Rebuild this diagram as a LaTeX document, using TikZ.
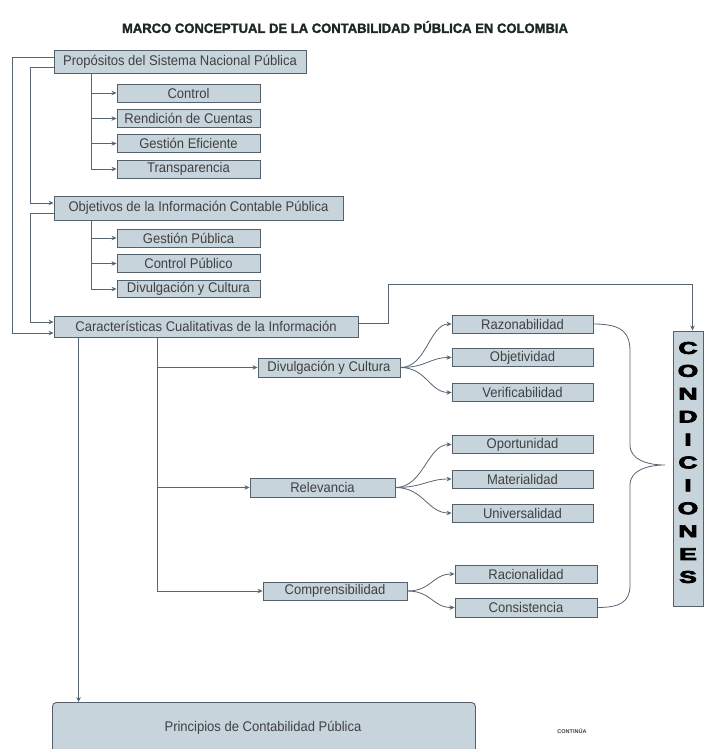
\documentclass[tikz,border=0pt]{standalone}
\usepackage{fontspec}
\usepackage{graphicx}
\setmainfont{Liberation Sans}
\newfontfamily\boxfont[FakeStretch=0.93]{Liberation Sans}
\newfontfamily\heavyfont[FakeBold=4]{Liberation Sans Bold}
\newfontfamily\titfont[FakeBold=1.6]{Liberation Sans Bold}
\usetikzlibrary{arrows.meta,shadows}
\definecolor{boxc}{RGB}{200,212,220}
\definecolor{bordc}{RGB}{84,96,108}
\definecolor{linec}{RGB}{88,100,114}
\definecolor{textc}{RGB}{62,64,66}
\definecolor{titc}{RGB}{28,40,32}
\tikzset{
  bx/.style 2 args={draw=bordc, fill=boxc, line width=0.9pt, inner sep=0pt,
    minimum width=#1, minimum height=#2, text=textc,
    font=\boxfont\fontsize{14}{14}\selectfont,
    drop shadow={shadow xshift=0.8pt,shadow yshift=-0.8pt,fill=black!30}},
  ln/.style={draw=linec, line width=0.8pt},
  arr/.style={ln, -{Stealth[length=5pt,width=4.5pt]}},
}
\begin{document}
\begin{tikzpicture}[x=1pt,y=-1pt]
\useasboundingbox (0,0) rectangle (704,749);
\fill[white] (0,0) rectangle (704,749);

% title
\node[text=titc, inner sep=0pt] (tit) at (345,27)
  {\resizebox{446pt}{\height}{\titfont\fontsize{13.5}{14}\selectfont MARCO CONCEPTUAL DE LA CONTABILIDAD PÚBLICA EN COLOMBIA}};

% level 1
\node[bx={252pt}{23pt}] (p1) at (180,61.5) {Propósitos del Sistema Nacional Pública};
\node[bx={143pt}{18pt}] (c1) at (188.5,93) {Control};
\node[bx={143pt}{18pt}] (c2) at (188.5,118.5) {Rendición de Cuentas};
\node[bx={143pt}{18pt}] (c3) at (188.5,143.5) {Gestión Eficiente};
\node[bx={143pt}{18pt}] (c4) at (188.5,169) {Transparencia};

\node[bx={289pt}{24pt}] (p2) at (198.5,208) {Objetivos de la Información Contable Pública};
\node[bx={143pt}{18pt}] (g1) at (188.5,238) {Gestión Pública};
\node[bx={143pt}{18pt}] (g2) at (188.5,263.5) {Control Público};
\node[bx={143pt}{17pt}] (g3) at (188.5,289) {Divulgación y Cultura};

\node[bx={304pt}{21pt}] (p3) at (206,326.5) {Características Cualitativas de la Información};

\node[bx={142pt}{19pt}] (dv) at (329,367.5) {Divulgación y Cultura};
\node[bx={145pt}{19pt}] (rl) at (322.5,487.5) {Relevancia};
\node[bx={144pt}{18pt}] (cp) at (335,591) {Comprensibilidad};

\node[bx={141pt}{18pt}] (r1) at (522.5,324) {Razonabilidad};
\node[bx={141pt}{18pt}] (r2) at (522.5,357.5) {Objetividad};
\node[bx={141pt}{18pt}] (r3) at (522.5,392.5) {Verificabilidad};
\node[bx={141pt}{18pt}] (r4) at (522.5,444.5) {Oportunidad};
\node[bx={141pt}{18pt}] (r5) at (522.5,479) {Materialidad};
\node[bx={141pt}{18pt}] (r6) at (522.5,513) {Universalidad};
\node[bx={142pt}{18pt}] (rc) at (526,574) {Racionalidad};
\node[bx={142pt}{19pt}] (cs) at (526,607.5) {Consistencia};

% condiciones
\node[bx={30pt}{275pt}] (cond) at (688,468.5) {};
\foreach \l [count=\i from 0] in {C,O,N,D,I,C,I,O,N,E,S}
  \node[inner sep=0pt, text=black] (cl\i) at (688,348+22.9*\i)
    {\scalebox{1.55}[1]{\heavyfont\fontsize{17}{17}\selectfont \l}};

% principios
\node[draw=bordc, fill=boxc, line width=0.9pt, rounded corners=4pt, minimum width=423pt,
  minimum height=70pt, inner sep=0pt, anchor=north west] (pr) at (52,702) {};
\node[text=textc, font=\boxfont\fontsize{14}{14}\selectfont, inner sep=0pt] (prt) at (263,728)
  {Principios de Contabilidad Pública};
\node[text=textc, font=\fontsize{5.5}{6}\selectfont\bfseries, inner sep=0pt] (cont) at (572,731) {CONTINÚA};

% left connectors
\draw[arr] ([yshift=4.5pt]p1.west) -- ++(-41,0) |- ([yshift=-6.5pt]p3.west);
\draw[arr] ([yshift=-5.5pt]p1.west) -- ++(-23,0) |- ([yshift=5pt]p2.west);
\draw[arr] ([yshift=-5pt]p2.west) -- ++(-23,0) |- ([yshift=4.5pt]p3.west);

% sub boxes
\foreach \n in {c1,c2,c3,c4}
  \draw[arr] (p1.south west) ++(38,0) |- (\n.west);
\foreach \n in {g1,g2,g3}
  \draw[arr] (p2.south west) ++(38,0) |- (\n.west);

% to condiciones
\draw[arr] ([yshift=3.5pt]p3.east) -- ++(30,0) -- ++(0,-39) -| ([xshift=4.5pt]cond.north);

% downward lines
\coordinate (s1) at ([xshift=25pt]p3.south west);
\coordinate (s2) at ([xshift=104pt]p3.south west);
\draw[arr] (s1) -- (s1 |- pr.north);
\draw[arr] (s2) |- (cp.west);
\draw[arr] (s2 |- dv.west) -- (dv.west);
\draw[arr] (s2 |- rl.west) -- (rl.west);

% fans
\foreach \n in {r1,r2,r3}
  \draw[arr] (dv.east) .. controls +(26,0) and +(-22,0) .. (\n.west);
\foreach \n in {r4,r5,r6}
  \draw[arr] (rl.east) .. controls +(28,0) and +(-24,0) .. (\n.west);
\foreach \n in {rc,cs}
  \draw[arr] (cp.east) .. controls +(24,0) and +(-22,0) .. (\n.west);

% brace
\coordinate (tip) at (665,465);
\draw[ln] (r1.east) .. controls (624,324) and (630,334) .. (630,352)
  -- (630,445) .. controls (630,460) and (648,465) .. (tip)
  .. controls (648,465) and (630,470) .. (630,485)
  -- (630,585) .. controls (630,602) and (620,607.5) .. (cs.east);
\end{tikzpicture}
\end{document}
